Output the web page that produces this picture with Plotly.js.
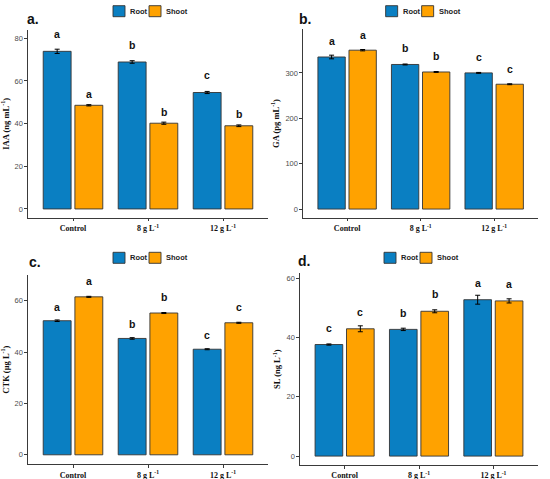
<!DOCTYPE html>
<html><head><meta charset="utf-8">
<script src="https://cdn.plot.ly/plotly-3.0.1.min.js"></script>
<style>html,body{margin:0;padding:0;background:#fff}#chart{width:550px;height:479px}</style>
</head><body><div id="chart"></div>
<script>
// ---- data ----
const categories = ['Control', '8 g L<sup>-1</sup>', '12 g L<sup>-1</sup>'];
const seriesNames = ['Root', 'Shoot'];

const iaaRoot = [73.9, 68.9, 54.6];
const iaaRootErr = [1.0, 0.6, 0.5];
const iaaShoot = [48.6, 40.2, 39.0];
const iaaShootErr = [0.3, 0.5, 0.4];
const iaaRootLetters = ['a', 'b', 'c'];
const iaaShootLetters = ['a', 'b', 'b'];

const gaRoot = [335, 318.5, 300];
const gaRootErr = [4, 1, 1];
const gaShoot = [350, 302, 275];
const gaShootErr = [1.5, 1, 1];
const gaRootLetters = ['a', 'b', 'c'];
const gaShootLetters = ['a', 'b', 'c'];

const ctkRoot = [52.2, 45.3, 41.1];
const ctkRootErr = [0.3, 0.3, 0.2];
const ctkShoot = [61.5, 55.2, 51.4];
const ctkShootErr = [0.2, 0.2, 0.2];
const ctkRootLetters = ['a', 'b', 'c'];
const ctkShootLetters = ['a', 'b', 'c'];

const slRoot = [37.6, 42.7, 52.7];
const slRootErr = [0.2, 0.4, 1.5];
const slShoot = [42.9, 48.8, 52.3];
const slShootErr = [1.0, 0.5, 0.7];
const slRootLetters = ['c', 'b', 'a'];
const slShootLetters = ['c', 'b', 'a'];

// ---- styles / layout ----
const W = 550, H = 479;
const colors = ['#0A7FC2', '#FFA200'];
const panels = [
  {tag: 'a.', ytitle: 'IAA (ng mL<sup>-1</sup>)', vals: [iaaRoot, iaaShoot], errs: [iaaRootErr, iaaShootErr],
   letters: [iaaRootLetters, iaaShootLetters], range: [-4.1, 83.9], dtick: 20,
   px: [28, 268], py: [30, 217.7], shift: [17, 11.5], legY: 11.2, tagXY: [25, 18.5]},
  {tag: 'b.', ytitle: 'GA (pg mL<sup>-1</sup>)', vals: [gaRoot, gaShoot], errs: [gaRootErr, gaShootErr],
   letters: [gaRootLetters, gaShootLetters], range: [-19, 396], dtick: 100,
   px: [303, 538.3], py: [29.3, 217.7], shift: [16, 15.5], legY: 11.2, tagXY: [296.5, 18.5]},
  {tag: 'c.', ytitle: 'CTK (μg L<sup>-1</sup>)', vals: [ctkRoot, ctkShoot], errs: [ctkRootErr, ctkShootErr],
   letters: [ctkRootLetters, ctkShootLetters], range: [-3.7, 70], dtick: 20,
   px: [28, 268], py: [275, 464.3], shift: [14, 15.7], legY: 257.8, tagXY: [27, 262]},
  {tag: 'd.', ytitle: 'SL (ng L<sup>-1</sup>)', vals: [slRoot, slShoot], errs: [slRootErr, slShootErr],
   letters: [slRootLetters, slShootLetters], range: [-3, 61.6], dtick: 20,
   px: [300, 538], py: [273.3, 465], shift: [16.5, 17], legY: 257.8, tagXY: [296, 261]}
];
const dodge = 0.211;

const data = [];
const annotations = [];
const shapes = [];
const layout = {
  width: W, height: H,
  margin: {l: 0, r: 0, t: 0, b: 0},
  paper_bgcolor: '#fff', plot_bgcolor: '#fff',
  showlegend: false,
  barmode: 'group', bargap: 0.155, bargroupgap: 0.12,
  font: {family: 'Liberation Sans, Arial, sans-serif', color: '#000'}
};

panels.forEach((p, i) => {
  const n = i === 0 ? '' : String(i + 1);
  const xa = 'x' + n, ya = 'y' + n;
  layout['xaxis' + n] = {
    type: 'category', domain: [p.px[0] / W, p.px[1] / W], anchor: ya,
    range: [-0.6, 2.6], showline: true, linecolor: '#3a3a3a', linewidth: 1.1,
    ticks: 'outside', ticklen: 2.5, tickcolor: '#3a3a3a', tickwidth: 1,
    showgrid: false, zeroline: false, fixedrange: true,
    tickfont: {family: 'Liberation Serif, Times New Roman, serif', size: 8, color: '#111', weight: 'bold'}
  };
  layout['yaxis' + n] = {
    domain: [1 - p.py[1] / H, 1 - p.py[0] / H], anchor: xa,
    range: p.range, tick0: 0, dtick: p.dtick,
    showline: true, linecolor: '#3a3a3a', linewidth: 1.1,
    ticks: 'outside', ticklen: 2.5, tickcolor: '#3a3a3a', tickwidth: 1,
    showgrid: false, zeroline: false, fixedrange: true,
    tickfont: {family: 'Liberation Sans, Arial, sans-serif', size: 7.5, color: '#4d4d4d'},
    title: {text: p.ytitle, standoff: 4,
            font: {family: 'Liberation Serif, Times New Roman, serif', size: 8.5, color: '#111', weight: 'bold'}}
  };
  [0, 1].forEach(s => {
    data.push({
      type: 'bar', name: seriesNames[s], x: categories, y: p.vals[s],
      xaxis: xa, yaxis: ya,
      marker: {color: colors[s], line: {color: '#333', width: 0.9}},
      error_y: {type: 'data', array: p.errs[s], visible: true, color: '#000', thickness: 1, width: 2.5},
      hoverinfo: 'skip'
    });
    p.letters[s].forEach((lt, j) => {
      annotations.push({
        xref: xa, yref: ya, x: j + (s === 0 ? -dodge : dodge), y: p.vals[s][j],
        yshift: p.shift[s], yanchor: 'middle', xanchor: 'center',
        text: lt, showarrow: false,
        font: {family: 'Liberation Sans, Arial, sans-serif', size: 10.5, color: '#111', weight: 'bold'}
      });
    });
  });
  // panel tag
  annotations.push({
    xref: 'paper', yref: 'paper', x: p.tagXY[0] / W, y: 1 - p.tagXY[1] / H,
    xanchor: 'left', yanchor: 'middle', text: p.tag, showarrow: false,
    font: {family: 'Liberation Sans, Arial, sans-serif', size: 14, color: '#111', weight: 'bold'}
  });
  // legend (key boxes + labels)
  const cx = (p.px[0] + p.px[1]) / 2;
  const boxOff = [-35, 1], textOff = [-20, 16];
  [0, 1].forEach(s => {
    shapes.push({
      type: 'rect', xref: 'paper', yref: 'paper',
      x0: (cx + boxOff[s]) / W, x1: (cx + boxOff[s] + 12) / W,
      y0: 1 - (p.legY + 5.5) / H, y1: 1 - (p.legY - 5.5) / H,
      fillcolor: colors[s], line: {color: '#333', width: 0.9}
    });
    annotations.push({
      xref: 'paper', yref: 'paper', x: (cx + textOff[s]) / W, y: 1 - p.legY / H,
      xanchor: 'left', yanchor: 'middle', text: seriesNames[s], showarrow: false,
      font: {family: 'Liberation Sans, Arial, sans-serif', size: 7.5, color: '#222', weight: 'bold'}
    });
  });
});
layout.annotations = annotations;
layout.shapes = shapes;

Plotly.newPlot('chart', data, layout, {displayModeBar: false, staticPlot: true});
</script></body></html>
